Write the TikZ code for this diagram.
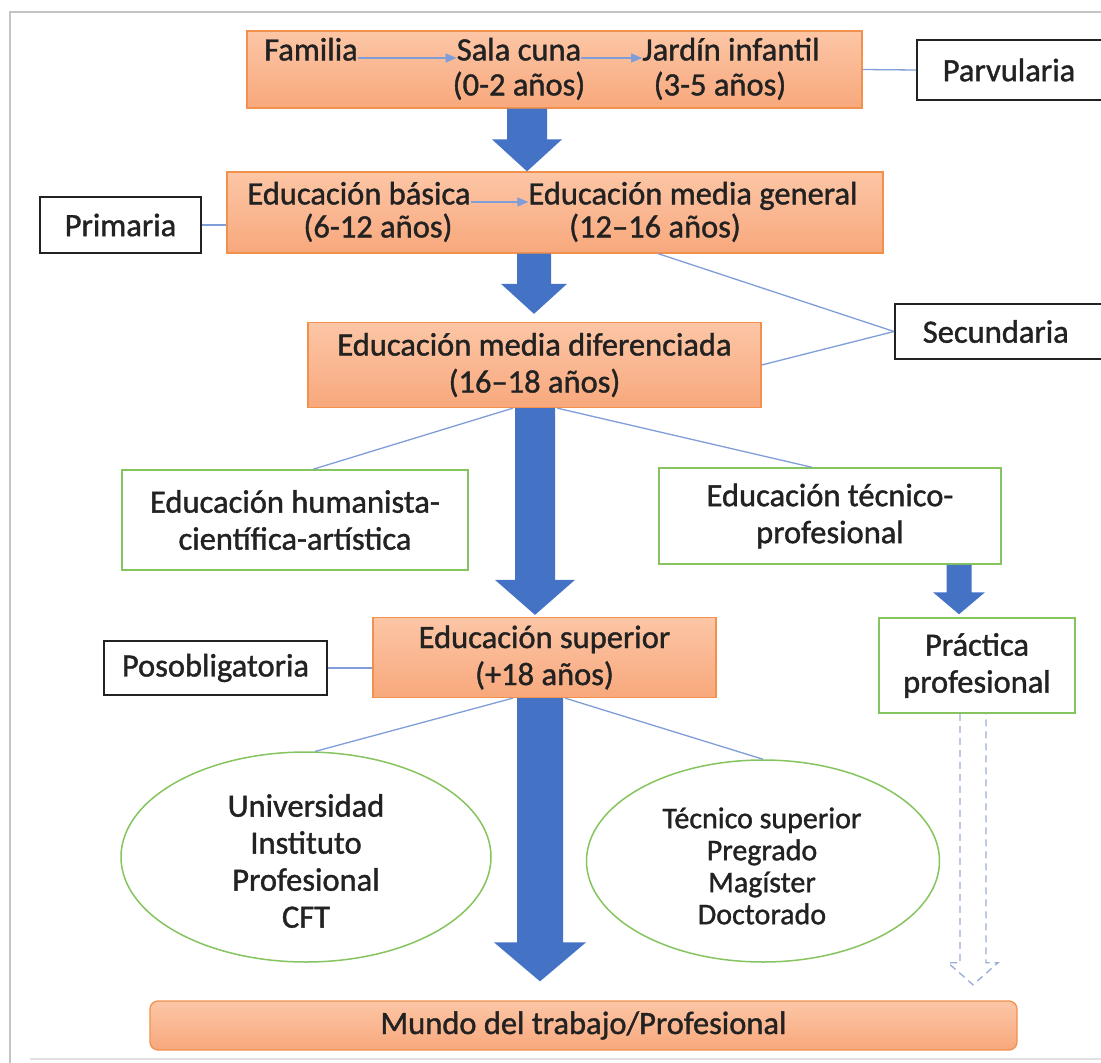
\documentclass[tikz,border=0pt]{standalone}
\usepackage{fontspec}
\setmainfont{Carlito}[FakeBold=1.2]
\usetikzlibrary{arrows.meta,shapes.geometric,calc}

\definecolor{orangeline}{HTML}{F2914E}
\definecolor{orangetop}{HTML}{FCC6A6}
\definecolor{orangebot}{HTML}{F8A87C}
\definecolor{arrowblue}{HTML}{4472C4}
\definecolor{thinblue}{HTML}{7F9DD8}
\definecolor{dashblue}{HTML}{9AAED8}
\definecolor{boxgreen}{HTML}{86C45F}
\definecolor{inkgray}{HTML}{222222}
\definecolor{framegray}{HTML}{C4C4C4}

% vertical block arrow: x, start point, tip point, half shaft, half head, head length
\newcommand\blockdown[6]{%
  \fill[arrowblue] let \p1=(#2), \p2=(#3) in
    ({#1pt-#4pt},\y1) -- ({#1pt+#4pt},\y1) -- ({#1pt+#4pt},\y2+#6pt) --
    ({#1pt+#5pt},\y2+#6pt) -- ({#1pt},\y2) -- ({#1pt-#5pt},\y2+#6pt) --
    ({#1pt-#4pt},\y2+#6pt) -- cycle;}

\begin{document}
\begin{tikzpicture}[x=1pt,y=-1pt,
  every node/.style={text=inkgray, font=\fontsize{32.5}{37}\selectfont},
  stagebox/.style={draw=orangeline, line width=1.3pt, top color=orangetop,
    bottom color=orangebot, inner sep=0pt, align=center},
  labelbox/.style={draw=inkgray, line width=1.6pt, fill=white, inner sep=0pt, align=center},
  pathbox/.style={draw=boxgreen, line width=1.5pt, fill=white, inner sep=0pt, align=center},
  pathoval/.style={ellipse, draw=boxgreen, line width=1.5pt, fill=white, inner sep=0pt, align=center},
  word/.style={inner sep=0pt, text height=0.68em, text depth=0.2em},
  link/.style={draw=thinblue, line width=1.3pt},
  flow/.style={draw=thinblue, line width=1.3pt, -{Triangle[length=11pt,width=9pt]}, fill=thinblue},
]
\useasboundingbox (0,0) rectangle (1101,1063);
\clip (0,0) rectangle (1101,1063);

% page frame
\draw[framegray, line width=1.5pt] (10,1063) -- (10,12) -- (1101,12);
\draw[framegray!50, line width=2pt] (30,1059) -- (1101,1059);

% ---- stage boxes
\node[stagebox, minimum width=615, minimum height=77] (top) at (554.5,69.5) {};
\node[stagebox, minimum width=656, minimum height=81] (mid) at (555,212.5) {};
\node[stagebox, minimum width=453, minimum height=85] (diff) at (534.5,365)
  {Educación media diferenciada\\(16–18 años)};
\node[stagebox, minimum width=343, minimum height=80] (sup) at (544.5,657.5)
  {Educación superior\\(+18 años)};
\node[stagebox, rounded corners=8pt, minimum width=867, minimum height=49] (mundo)
  at (583.5,1025.5) {Mundo del trabajo/Profesional};

% words inside the first two stage boxes
\node[word] (fam) at (311,58) {Familia};
\node[word] (sala) at (519,58) {Sala cuna};
\node[word] (jard) at (731,58) {Jardín infantil};
\node[word] at (519,93) {(0-2 años)};
\node[word] at (720,93) {(3-5 años)};
\node[word] (basica) at (359,202) {Educación básica};
\node[word] (media) at (693,202) {Educación media general};
\node[word] at (378,235) {(6-12 años)};
\node[word] at (655,235) {(12–16 años)};

\draw[flow] (fam.east) -- (sala.west);
\draw[flow] (sala.east) -- (jard.west);
\draw[flow] (basica.east) -- (media.west);

% ---- level labels
\node[labelbox, anchor=west, minimum width=220, minimum height=60,
  text width=180, align=left, inner xsep=26] (parv) at (916,70) {Parvularia};
\node[labelbox, minimum width=161, minimum height=56] (prim) at (120.5,225) {Primaria};
\node[labelbox, anchor=west, minimum width=230, minimum height=55,
  text width=190, align=left, inner xsep=28] (secu) at (894,331.5) {Secundaria};
\node[labelbox, minimum width=223, minimum height=54] (posob) at (215.5,668) {Posobligatoria};

% ---- branches
\node[pathbox, minimum width=346, minimum height=100] (hum) at (295,520)
  {Educación humanista-\\científica-artística};
\node[pathbox, minimum width=342, minimum height=96] (tec) at (830,516)
  {Educación técnico-\\profesional};
\node[pathbox, minimum width=196, minimum height=95] (prac) at (977,665.5)
  {Práctica\\profesional};
\node[pathoval, minimum width=370, minimum height=210] (inst) at (306,857) {};
\node[align=center] at (306,861) {Universidad\\Instituto\\Profesional\\CFT};
\node[pathoval, minimum width=353, minimum height=202] (grad) at (763,861) {};
\node[align=center, font=\fontsize{30}{32}\selectfont] at (762,866)
  {Técnico superior\\Pregrado\\Magíster\\Doctorado};

% ---- thin connectors
\draw[link] (top.east) -- (parv.west);
\draw[link] (prim.east) -- (mid.west |- prim.east);
\draw[link] ($(mid.south west)!0.657!(mid.south east)$) -- (secu.west);
\draw[link] (diff.east) -- (secu.west);
\draw[link] ($(diff.south west)!0.4525!(diff.south east)$) -- ($(hum.north west)!0.552!(hum.north east)$);
\draw[link] ($(diff.south west)!0.55!(diff.south east)$) -- ($(tec.north west)!0.447!(tec.north east)$);
\draw[link] (posob.east) -- (sup.west |- posob.east);
\draw[link] ($(sup.south west)!0.408!(sup.south east)$) -- (inst.85);
\draw[link] ($(sup.south west)!0.56!(sup.south east)$) -- (grad.north);

% ---- block arrows
\blockdown{527}{top.south}{mid.north}{20}{35}{32}
\blockdown{534}{mid.south}{$(diff.north)+(0,-8)$}{17}{33}{30}
\blockdown{535}{diff.south}{$(sup.north)+(0,-2)$}{20}{40}{35}
\blockdown{540}{sup.south}{$(mundo.north)+(0,-19)$}{23}{46}{39}
\blockdown{959}{tec.south}{$(prac.north)+(0,-3)$}{12.5}{26}{22}

% ---- dashed outline arrow below the practice box
\coordinate (dl) at ($(prac.south)+(-17,0)$);
\coordinate (dr) at ($(prac.south)+(9,0)$);
\draw[dashblue, line width=1.4pt, dash pattern=on 7pt off 5pt]
  (dl) -- ($(dl)+(0,249)$) -- ($(dl)+(-12,249)$) -- ($(dl)+(13,271)$)
  -- ($(dr)+(12,249)$) -- ($(dr)+(0,249)$) -- (dr);
\end{tikzpicture}
\end{document}
